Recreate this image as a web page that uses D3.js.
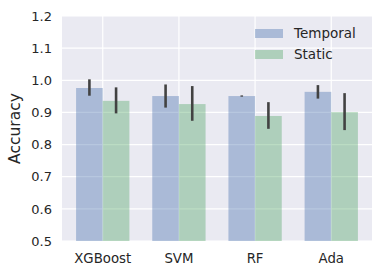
<!DOCTYPE html>
<html>
<head>
<meta charset="utf-8">
<script src="https://cdn.jsdelivr.net/npm/d3@7"></script>
<style>
  body { margin: 0; background: #fff; }
  text { font-family: "DejaVu Sans", sans-serif; fill: #262626; }
</style>
</head>
<body>
<div id="chart"></div>
<script>
// data
var models = ["XGBoost", "SVM", "RF", "Ada"];
var temporal = [0.976, 0.951, 0.951, 0.964];
var temporalLo = [0.952, 0.915, 0.949, 0.943];
var temporalHi = [1.003, 0.987, 0.953, 0.985];
var staticAcc = [0.936, 0.926, 0.889, 0.901];
var staticLo = [0.897, 0.874, 0.849, 0.845];
var staticHi = [0.978, 0.982, 0.932, 0.960];
var yTicks = [0.5, 0.6, 0.7, 0.8, 0.9, 1.0, 1.1, 1.2];
var seriesNames = ["Temporal", "Static"];

var WIDTH = 382, HEIGHT = 275;
var margin = {left: 62, top: 16, right: 10, bottom: 34};
var barW = 0.35;

var svg = d3.select("#chart").append("svg")
  .attr("width", WIDTH)
  .attr("height", HEIGHT);

// x is a linear scale over the category index, like matplotlib does it
var x = d3.scaleLinear()
  .domain([-0.535, models.length - 1 + 0.535])
  .range([margin.left, WIDTH - margin.right]);
var y = d3.scaleLinear()
  .domain([0.5, 1.2])
  .range([HEIGHT - margin.bottom, margin.top]);

// background
svg.append("rect")
  .attr("x", x.range()[0])
  .attr("y", y.range()[1])
  .attr("width", x.range()[1] - x.range()[0])
  .attr("height", y.range()[0] - y.range()[1])
  .attr("fill", "#EAEAF2");

// grid
svg.append("g").selectAll("line")
  .data(yTicks)
  .join("line")
  .attr("x1", x.range()[0])
  .attr("x2", x.range()[1])
  .attr("y1", d => y(d))
  .attr("y2", d => y(d))
  .attr("stroke", "#fff")
  .attr("stroke-width", 1.2);

svg.append("g").selectAll("line")
  .data(models)
  .join("line")
  .attr("x1", (d, i) => x(i))
  .attr("x2", (d, i) => x(i))
  .attr("y1", y.range()[0])
  .attr("y2", y.range()[1])
  .attr("stroke", "#fff")
  .attr("stroke-width", 1.2);

var series = [
  {name: "Temporal", vals: temporal, lo: temporalLo, hi: temporalHi, off: -barW, color: "#4C72B0"},
  {name: "Static", vals: staticAcc, lo: staticLo, hi: staticHi, off: 0, color: "#55A868"}
];

series.forEach(s => {
  svg.append("g").selectAll("rect")
    .data(s.vals)
    .join("rect")
    .attr("x", (d, i) => x(i + s.off))
    .attr("width", x(barW) - x(0))
    .attr("y", d => y(d))
    .attr("height", d => y(0.5) - y(d))
    .attr("fill", s.color)
    .attr("fill-opacity", 0.4);
});

series.forEach(s => {
  svg.append("g").selectAll("line")
    .data(s.vals)
    .join("line")
    .attr("x1", (d, i) => x(i + s.off + barW / 2))
    .attr("x2", (d, i) => x(i + s.off + barW / 2))
    .attr("y1", (d, i) => y(s.lo[i]))
    .attr("y2", (d, i) => y(s.hi[i]))
    .attr("stroke", "#424242")
    .attr("stroke-width", 2.6);
});

// y tick labels
svg.append("g").selectAll("text")
  .data(yTicks)
  .join("text")
  .attr("x", x.range()[0] - 10)
  .attr("y", d => y(d))
  .attr("dy", "0.36em")
  .attr("text-anchor", "end")
  .style("font-size", "13px")
  .text(d => d.toFixed(1));

// x tick labels
svg.append("g").selectAll("text")
  .data(models)
  .join("text")
  .attr("x", (d, i) => x(i))
  .attr("y", y.range()[0] + 22)
  .attr("text-anchor", "middle")
  .style("font-size", "13.3px")
  .text(d => d);

// y label
svg.append("text")
  .attr("transform", "translate(20," + ((y.range()[0] + y.range()[1]) / 2) + ") rotate(-90)")
  .attr("text-anchor", "middle")
  .style("font-size", "15.5px")
  .text("Accuracy");

// legend
var legend = svg.append("g").attr("transform", "translate(255,29)");
series.forEach((s, i) => {
  legend.append("rect")
    .attr("x", 0)
    .attr("y", i * 21)
    .attr("width", 28)
    .attr("height", 9)
    .attr("fill", s.color)
    .attr("fill-opacity", 0.4);
  legend.append("text")
    .attr("x", 39)
    .attr("y", i * 21 + 4.5)
    .attr("dy", "0.36em")
    .style("font-size", "13.5px")
    .text(seriesNames[i]);
});
</script>
</body>
</html>
